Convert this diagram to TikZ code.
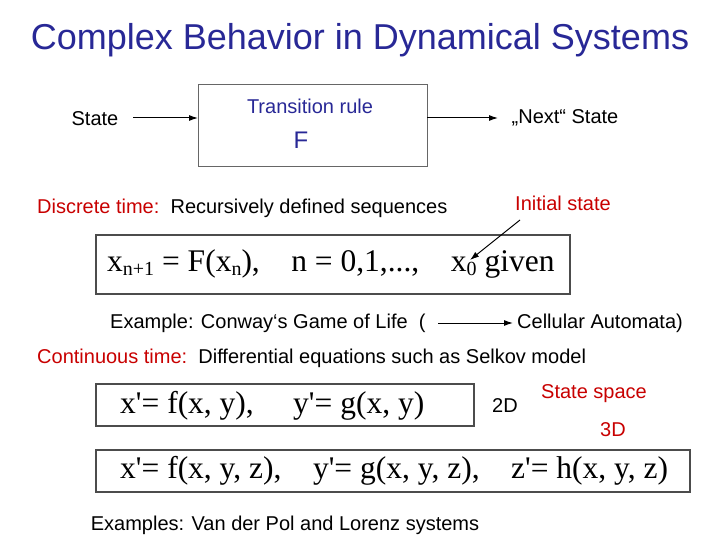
\documentclass[tikz,border=0pt]{standalone}
\usepackage{fontspec}
\usetikzlibrary{arrows.meta}
\setmainfont{Liberation Sans}
\newfontfamily\frm{Liberation Serif}
\definecolor{tblue}{RGB}{40,40,150}
\definecolor{tred}{RGB}{200,0,0}
\newcommand{\sbs}[1]{\raisebox{-0.3ex}{\fontsize{20}{22}\selectfont #1}}
\begin{document}
\begin{tikzpicture}[x=1pt,y=-1pt,
 txt/.style={font=\fontsize{20}{22}\selectfont,inner sep=0pt},
 fbox/.style={draw=black!70,line width=1.2pt},
 arr/.style={-{Latex[length=9pt,width=6pt]},line width=1pt},
 fml/.style={font=\frm\fontsize{31.5}{34}\selectfont,inner sep=0pt}]
\useasboundingbox (0,0) rectangle (720,540);
\node[txt,tblue,font=\fontsize{36}{38}\selectfont] (title) at (360,40) {Complex Behavior in Dynamical Systems};
\node[txt] (state) at (95,119) {State};
\draw[draw=black!60,line width=1pt] (198,85) rectangle (427,167);
\coordinate (bl) at (198,118); \coordinate (br) at (427,118);
\node[txt,tblue] (tr) at (310,106) {Transition rule};
\node[txt,tblue,font=\fontsize{24}{26}\selectfont] (F) at (301,140) {F};
\node[txt] (next) at (565,118) {„Next“ State};
\coordinate (sa) at (133,118); \coordinate (ne) at (498,118);
\draw[arr] (sa) -- (bl);
\draw[arr] (br) -- (ne);
\node[txt,anchor=west] (disc) at (37,208) {\textcolor{tred}{Discrete time:}\ \ Recursively defined sequences};
\node[txt,tred] (init) at (563,203) {Initial state};
\draw[fbox] (96,235) rectangle (570,294);
\node[fml,anchor=west] (f1) at (107,264) {x\sbs{n+1} = F(x\sbs{n}),\quad n = 0,1,...,\quad x\sbs{0} given};
\coordinate (x0) at (470,260); \coordinate (is) at (520,220);
\draw[arr] (is) -- (x0);
\node[txt,anchor=west] (ex1) at (110,323) {Example: Conway‘s Game of Life\ \ (};
\node[txt,anchor=west] (ca) at (517,323) {Cellular Automata)};
\coordinate (cs) at (438,323); \coordinate (ce) at (513,323);
\draw[arr] (cs) -- (ce);
\node[txt,anchor=west] (cont) at (37,358) {\textcolor{tred}{Continuous time:}\ \ Differential equations such as Selkov model};
\draw[fbox] (96,384) rectangle (474,426);
\node[fml,anchor=west] (f2) at (120,406) {x'= f(x, y),\quad\ y'= g(x, y)};
\node[txt] (d2) at (505,406) {2D};
\node[txt,tred] (ss) at (594,394) {State space};
\node[txt,tred] (d3) at (613,430) {3D};
\draw[fbox] (96,450) rectangle (690,492);
\node[fml,anchor=west] (f3) at (120,471) {x'= f(x, y, z),\quad y'= g(x, y, z),\quad z'= h(x, y, z)};
\node[txt] (ex2) at (285,525) {Examples: Van der Pol and Lorenz systems};
\end{tikzpicture}
\end{document}
